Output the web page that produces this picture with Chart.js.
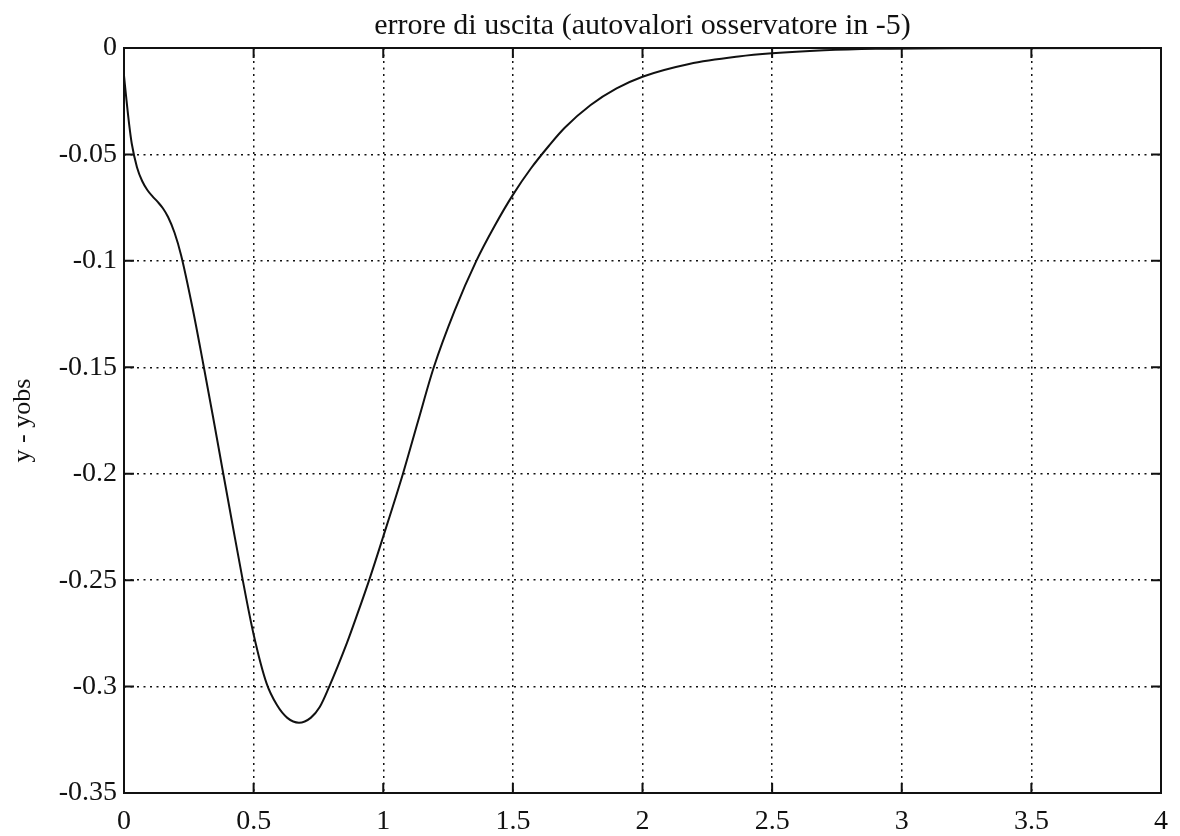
<!DOCTYPE html>
<html>
<head>
<meta charset="utf-8">
<title>errore di uscita</title>
<script src="https://cdn.jsdelivr.net/npm/chart.js@4.4.1/dist/chart.umd.min.js"></script>
<style>
  html, body { margin: 0; padding: 0; background: #fff; }
  #wrap { width: 1180px; height: 836px; }
</style>
</head>
<body>
<div id="wrap"><canvas id="chart"></canvas></div>
<script>
// curve (t, y - yobs)
const timeValues = [0, 0.01, 0.02, 0.03, 0.05, 0.07, 0.09, 0.11, 0.13, 0.15, 0.17, 0.195, 0.22, 0.265, 0.305, 0.343, 0.38,
  0.418, 0.455, 0.50, 0.55, 0.59, 0.63, 0.675, 0.72, 0.755, 0.79, 0.86, 0.90, 0.947, 1.0, 1.076, 1.135, 1.195, 1.275, 1.359,
  1.43, 1.50, 1.57, 1.64, 1.70, 1.80, 1.90, 2.0, 2.18, 2.37, 2.5, 2.7, 2.9, 3.2, 4.0];
const errorValues = [-0.013, -0.025, -0.036, -0.045, -0.056, -0.0625, -0.0667, -0.0697, -0.0723, -0.0753, -0.0794, -0.0868, -0.0972, -0.1225, -0.148, -0.173, -0.198,
  -0.2235, -0.248, -0.2755, -0.2985, -0.3087, -0.3147, -0.317, -0.3147, -0.3096, -0.3005, -0.2795, -0.266, -0.2495, -0.2295, -0.2, -0.175, -0.15, -0.1235, -0.1,
  -0.0835, -0.069, -0.0565, -0.0458, -0.0375, -0.0268, -0.019, -0.0135, -0.0075, -0.004, -0.0025, -0.0011, -0.0004, -0.0001, 0];

const xTicks = [0, 0.5, 1, 1.5, 2, 2.5, 3, 3.5, 4];
const xTickLabels = ["0", "0.5", "1", "1.5", "2", "2.5", "3", "3.5", "4"];
const yTicks = [-0.35, -0.3, -0.25, -0.2, -0.15, -0.1, -0.05, 0];
const yTickLabels = ["-0.35", "-0.3", "-0.25", "-0.2", "-0.15", "-0.1", "-0.05", "0"];

const titleText = "errore di uscita (autovalori osservatore in -5)";
const yAxisTitle = "y - yobs";

const FONT = "'Liberation Serif', 'Times New Roman', serif";
const INK = "#111";

// matlab style box with inward ticks
const boxPlugin = {
  id: "box",
  afterDatasetsDraw(chart) {
    const { ctx, chartArea: a, scales } = chart;
    const len = 10;
    ctx.save();
    ctx.strokeStyle = INK;
    ctx.lineWidth = 2;
    ctx.strokeRect(a.left, a.top, a.right - a.left, a.bottom - a.top);
    ctx.beginPath();
    xTicks.forEach(v => {
      const px = scales.x.getPixelForValue(v);
      ctx.moveTo(px, a.bottom); ctx.lineTo(px, a.bottom - len);
      ctx.moveTo(px, a.top); ctx.lineTo(px, a.top + len);
    });
    yTicks.forEach(v => {
      const py = scales.y.getPixelForValue(v);
      ctx.moveTo(a.left, py); ctx.lineTo(a.left + len, py);
      ctx.moveTo(a.right, py); ctx.lineTo(a.right - len, py);
    });
    ctx.stroke();
    ctx.restore();
  }
};

new Chart(document.getElementById("chart"), {
  type: "line",
  data: {
    datasets: [{
      data: timeValues.map((t, i) => ({ x: t, y: errorValues[i] })),
      borderColor: INK,
      borderWidth: 2,
      pointRadius: 0,
      cubicInterpolationMode: "monotone",
      fill: false
    }]
  },
  options: {
    responsive: true,
    maintainAspectRatio: false,
    animation: false,
    layout: { padding: { top: 0, right: 10, bottom: 0, left: 0 } },
    plugins: {
      legend: { display: false },
      tooltip: { enabled: false },
      title: {
        display: true,
        text: titleText,
        color: INK,
        fullSize: false,
        font: { family: FONT, size: 30, weight: "normal" },
        padding: { top: 8, bottom: 4 }
      }
    },
    scales: {
      x: {
        type: "linear",
        min: 0,
        max: 4,
        afterBuildTicks: (scale) => { scale.ticks = xTicks.map(v => ({ value: v })); },
        afterFit: (scale) => { scale.height = 43; },
        ticks: {
          color: INK,
          padding: 12,
          maxRotation: 0,
          font: { family: FONT, size: 28 },
          callback: (v, i) => xTickLabels[i]
        },
        grid: { color: INK, lineWidth: 1.5, drawTicks: false },
        border: { display: false, dash: [2, 4.5] }
      },
      y: {
        type: "linear",
        min: -0.35,
        max: 0,
        afterBuildTicks: (scale) => { scale.ticks = yTicks.map(v => ({ value: v })); },
        afterFit: (scale) => { scale.width = 124; },
        ticks: {
          color: INK,
          padding: 7,
          font: { family: FONT, size: 28 },
          callback: (v, i) => yTickLabels[i]
        },
        title: {
          display: true,
          text: yAxisTitle,
          color: INK,
          font: { family: FONT, size: 26 },
          padding: { top: 8, bottom: 0 }
        },
        grid: { color: INK, lineWidth: 1.5, drawTicks: false },
        border: { display: false, dash: [2, 4.5] }
      }
    }
  },
  plugins: [boxPlugin]
});
</script>
</body>
</html>
